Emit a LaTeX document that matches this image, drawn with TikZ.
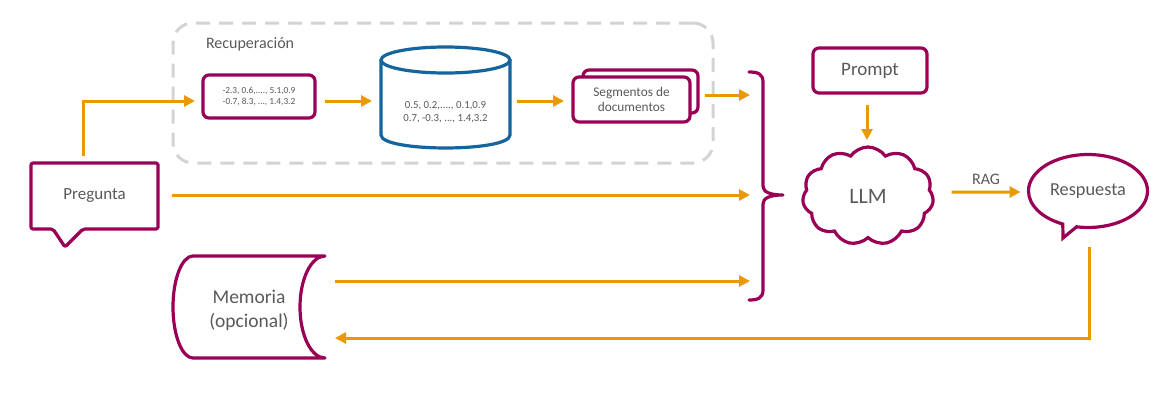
\documentclass[tikz,border=0pt]{standalone}
\usepackage{fontspec}
\setmainfont{Carlito}
\usetikzlibrary{arrows.meta,shapes.symbols,shapes.callouts,calc}
\definecolor{plum}{HTML}{990055}
\definecolor{amber}{HTML}{E99A00}
\definecolor{dbblue}{HTML}{16649E}
\definecolor{dashgray}{HTML}{D3D3D3}
\definecolor{txt}{HTML}{595959}
\begin{document}
\begin{tikzpicture}[x=1pt,y=-1pt,
  every node/.style={text=txt, inner sep=0pt, outer sep=0pt},
  pbox/.style={draw=plum, line width=3.2pt, rounded corners=6pt, fill=white},
  pline/.style={draw=plum, line width=3.2pt, line join=round},
  arr/.style={draw=amber, line width=3pt, -{Triangle[length=11pt,width=11pt]}},
]
\useasboundingbox (0,0) rectangle (1175,413);

% retrieval group
\node[draw=dashgray, line width=3pt, dash pattern=on 14pt off 9pt, rounded corners=20pt,
      minimum width=540pt, minimum height=140pt] (grp) at (443,93) {};
\node[font=\fontsize{16}{19}\selectfont, anchor=west] (rec) at (206,44) {Recuperación};

\node[pbox, minimum width=112pt, minimum height=43pt, align=center,
      font=\fontsize{9.3}{11}\selectfont] (vec) at (259,96.5)
      {-2.3, 0.6,...., 5.1,0.9\\-0.7, 8.3, ..., 1.4,3.2};

% database cylinder
\draw[dbblue, line width=3.2pt, fill=white] (381,60) -- (381,135)
   .. controls (381,152.3) and (510,152.3) .. (510,135) -- (510,60);
\draw[dbblue, line width=3.2pt] (445.5,60) ellipse [x radius=64.5, y radius=13];
\node[minimum width=129pt, align=center, font=\fontsize{10.8}{13}\selectfont] (cyl) at (445.5,112.5)
      {0.5, 0.2,...., 0.1,0.9\\0.7, -0.3, ..., 1.4,3.2};

% segments
\node[pbox, minimum width=115pt, minimum height=43pt] (segb) at (640.5,91.5) {};
\node[pbox, minimum width=117pt, minimum height=45pt, align=center,
      font=\fontsize{13.3}{15}\selectfont] (seg) at (631.5,99.5) {Segmentos de\\documentos};

% brace
\draw[pline, line cap=round] (749,72) .. controls (758,72) and (763,74) .. (763,82) -- (763,186)
   .. controls (763,192) and (770,195) .. (783,195)
   .. controls (770,195) and (763,198) .. (763,204) -- (763,290)
   .. controls (763,298) and (758,300) .. (749,300);
\coordinate (brace) at (783,195);
\coordinate (b1) at (750,95);
\coordinate (b2) at (750,195);
\coordinate (b3) at (750,281);

% prompt, llm, answer
\node[pbox, minimum width=114pt, minimum height=45pt, font=\fontsize{19}{22}\selectfont] (prompt) at (870,70.5) {Prompt};
\node[cloud, draw=plum, line width=3.2pt, cloud puffs=11, cloud puff arc=110, aspect=1.3,
      minimum width=131pt, minimum height=98pt, font=\fontsize{22}{26}\selectfont] (llm) at (868,196) {LLM};
\node[ellipse callout, draw=plum, line width=3.2pt, minimum width=119pt, minimum height=73pt,
      callout absolute pointer={(1063,238)}, callout pointer arc=14,
      font=\fontsize{18.3}{22}\selectfont] (resp) at (1088,191) {Respuesta};

% question
\node[minimum width=127pt, minimum height=66pt, font=\fontsize{17}{20}\selectfont] (preg) at (94.5,196) {Pregunta};
\draw[pline, rounded corners=2pt] (preg.north west) -- (preg.north east) -- (preg.south east)
   -- ($(preg.south west)+(52,0)$) -- ($(preg.south west)+(34,18)$) -- ($(preg.south west)+(22,0)$)
   -- (preg.south west) -- cycle;

% memory
\node[minimum width=152pt, minimum height=102pt, align=center, font=\fontsize{19.5}{24}\selectfont] (mem) at (249,310) {Memoria\\(opcional)};
\draw[pline] (325,256) -- (193,256) .. controls (182,256) and (173,278.8) .. (173,307)
   .. controls (173,335.2) and (182,358) .. (193,358) -- (325,358)
   .. controls (311.2,358) and (300,335.2) .. (300,307)
   .. controls (300,278.8) and (311.2,256) .. (325,256) -- cycle;

% connectors
\draw[arr] ($(preg.north)+(-11.5,-7)$) |- ($(vec.west)+(-8,4.5)$);
\draw[arr] ($(vec.east)+(10,4.5)$) -- ($(cyl.west)+(-9,-11.5)$);
\draw[arr] ($(cyl.east)+(7,-11.5)$) -- ($(seg.west)+(-9,1.5)$);
\draw[arr] ($(seg.east)+(15,-4.5)$) -- (b1);
\draw[arr] ($(preg.east)+(14,-1)$) -- (b2);
\draw[arr] ($(mem.east)+(10,-29)$) -- (b3);
\draw[arr, shorten <=12pt, shorten >=7pt] ($(prompt.south)+(-3,0)$) -- ($(llm.north)+(-1,0)$);
\draw[arr] ($(llm.east)+(19,-4)$) -- node[above=7pt, font=\fontsize{16}{19}\selectfont] (rag) {RAG} ($(resp.west)+(-8,1)$);
\draw[arr] ($(resp.center)+(1,56)$) |- ($(mem.east)+(10,28)$);
\end{tikzpicture}
\end{document}
